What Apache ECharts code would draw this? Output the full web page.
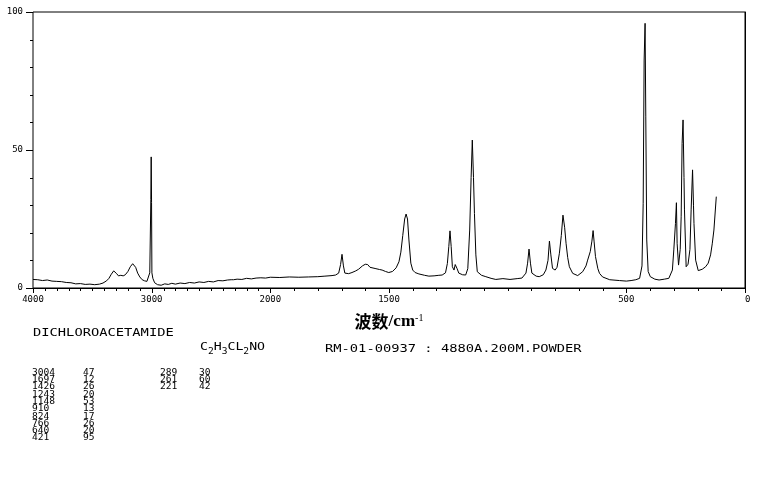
<!DOCTYPE html>
<html><head><meta charset="utf-8">
<script src="https://cdn.jsdelivr.net/npm/echarts@6/dist/echarts.min.js"></script>
<style>html,body{margin:0;padding:0;background:#fff}#c{width:761px;height:477px}</style>
</head><body><div id="c"></div>
<script>
// ---- data ----
const wavenumbers = [
 4000,3960,3920,3880,3840,3800,3760,3720,3680,3640,3600,3560,3520,3480,3440,3410,3380,3360,3340,3320,3310,3295,3280,3260,3240,3222,3200,3180,3160,3150,3135,3118,3100,3080,3060,3040,3025,3016,3010,3007,3004,3001,2998,2990,2975,2950,2920,2890,2860,2830,2800,2760,2720,2680,2640,2600,2560,2520,2480,2440,2400,2360,2330,2320,2310,2280,2240,2200,2160,2120,2080,2040,2000,
 1960,1920,1880,1840,1800,1770,1740,1725,1712,1704,1698,1692,1686,1670,1656,1640,1628,1612,1600,1590,1580,1572,1555,1540,1529,1515,1501,1485,1470,1458,1450,1442,1434,1428,1422,1416,1408,1400,1390,1374,1350,1332,1310,1290,1276,1262,1254,1248,1243,1238,1233,1226,1221,1218,1213,1206,1190,1177,1168,1160,1154,1149,1144,1140,1134,1128,1110,1092,1070,1050,1020,990,960,940,923,916,910,904,898,880,867,850,839,830,824,818,811,800,792,782,774,767,760,754,747,740,726,705,684,670,663,652,645,640,636,630,620,613,600,592,570,529,500,480,460,444,434,429,425,421,418,414,408,399,380,362,340,321,306,300,293,289,286,280,273,269,265,261,257,255,248,240,232,227,221,217,215,208,197,180,166,155,145,138,131,121
];
const intensities = [
 3.1,3.0,2.7,2.9,2.5,2.4,2.3,2.0,1.9,1.5,1.6,1.3,1.4,1.2,1.4,1.8,2.6,3.5,5.0,6.2,6.5,5.2,4.4,4.6,4.4,4.8,6.0,7.7,8.8,8.9,7.5,5.4,4.0,3.0,2.6,2.4,3.0,5.5,6.0,32,47.5,31,5.5,3.5,1.9,1.2,1.0,1.5,1.3,1.7,1.4,1.8,1.6,2.0,1.8,2.2,2.0,2.4,2.2,2.7,2.6,2.9,3.0,3.6,3.0,3.2,3.1,3.5,3.3,3.6,3.7,3.6,3.9,
 3.8,4.0,3.9,4.0,4.1,4.3,4.5,4.7,5.4,8.5,12.2,8.0,5.4,5.2,5.6,6.2,6.8,8.0,8.6,8.5,7.5,7.1,7.0,6.7,6.5,6.0,5.6,6.0,7.3,9.5,13,19,25,26.8,25,17.4,9.0,6.5,5.6,5.1,4.6,4.3,4.4,4.6,4.7,5.5,8.9,15,20.7,15,7.7,6.5,8.5,9.2,7.0,5.4,4.8,4.7,7,21,40,53.6,40,27,12,5.9,4.6,4.1,3.5,3.1,3.4,3.1,3.4,3.6,5.4,9,14.1,9,5.4,4.3,4.1,4.8,6.5,10,17,12,7.1,6.5,7.5,12.6,19,26.4,22,16.2,11,7.7,5.3,4.5,5.9,8.0,10.1,13.2,17,20.8,17,11.4,7.0,5.3,4.0,3.5,3.0,2.7,2.5,2.7,3.0,3.5,8,30.7,82.6,95.9,62,17.4,6,4.1,3.2,2.9,3.2,3.5,6.5,13.8,23.4,30.9,16.2,8.3,14,25.8,52.4,60.9,40,28.3,7.7,8.6,14,28.3,42.8,30,23.4,10.1,6.3,6.8,7.7,9,12,16,21,33.1
];
const xTickLabels = [4000, 3000, 2000, 1500, 500, 0];
const xMinorTicks = [3900,3800,3700,3600,3500,3400,3300,3200,3100,2900,2800,2700,2600,2500,2400,2300,2200,2100,1900,1800,1700,1600,1400,1300,1200,1100,1000,900,800,700,600,400,300,200,100];
const yTickLabels = [0, 50, 100];
const yMinorTicks = [10, 20, 30, 40, 60, 70, 80, 90];
const peakWavenumbers = [3004,1697,1426,1243,1148,910,824,766,640,421,289,261,221];
const peakIntensities = [47,12,26,20,53,13,17,26,20,95,30,60,42];
const compoundName = 'DICHLOROACETAMIDE';
const formulaRich = '{n|C}{s|2}{n|H}{s|3}{n|CL}{s|2}{n|NO}';
const sampleInfo = 'RM-01-00937 : 4880A.200M.POWDER';

// ---- axis transform: region above 2000 cm-1 drawn at half scale ----
const BREAK = 2000, UPPER_SCALE = 0.5;
function toAxis(w){ return w <= BREAK ? w : BREAK + (w - BREAK) * UPPER_SCALE; }
function fromAxis(u){ return u <= BREAK ? u : BREAK + (u - BREAK) / UPPER_SCALE; }
const AX_MAX = toAxis(4000);

const chart = echarts.init(document.getElementById('c'), null, {renderer:'canvas'});
const mono = 'DejaVu Sans Mono';
const rowsPerCol = 10;
const tableFont = '8px "' + mono + '"';
const lh = 7.3;
function colText(arr, start){ return arr.slice(start, start + rowsPerCol).map(String).join('\n'); }

// ticks drawn through the axes' own coordinate mapping (custom series)
function tickRenderer(dir, len){
  return function(params, api){
    const p = api.coord([api.value(0), api.value(1)]);
    if (dir === 'down') {
      const x = Math.round(p[0]) + 0.5;
      return {type:'line', shape:{x1:x, y1:p[1], x2:x, y2:p[1] + len}, style:{stroke:'#000', lineWidth:1}};
    }
    const y = Math.round(p[1]) + 0.5;
    return {type:'line', shape:{x1:p[0] - len, y1:y, x2:p[0], y2:y}, style:{stroke:'#000', lineWidth:1}};
  };
}

chart.setOption({
  animation: false,
  backgroundColor: '#fff',
  grid: {left:33, right:16, top:12, bottom:189, show:true, borderColor:'#000', borderWidth:1, containLabel:false},
  xAxis: {
    type:'value', min:0, max:AX_MAX, inverse:true, position:'bottom',
    axisLine:{show:true, lineStyle:{color:'#000', width:1}},
    axisTick:{show:false},
    axisLabel:{show:true, customValues: xTickLabels.map(toAxis), formatter: v => String(Math.round(fromAxis(v))),
      color:'#000', fontFamily:mono, fontSize:9, margin:7, alignMaxLabel:'left'},
    splitLine:{show:false},
    name:'{a|波数}{b|/cm}{c|-1}', nameLocation:'middle', nameGap:25,
    nameTextStyle:{rich:{
      a:{fontFamily:'Noto Sans CJK SC', fontSize:17, fontWeight:'bold', color:'#000'},
      b:{fontFamily:'Liberation Serif', fontSize:17, fontWeight:'bold', color:'#000'},
      c:{fontFamily:'Liberation Serif', fontSize:10, color:'#000', verticalAlign:'top', padding:[0,0,8,0]}
    }}
  },
  yAxis: {
    type:'value', min:0, max:100, position:'left',
    axisLine:{show:true, lineStyle:{color:'#000', width:1}},
    axisTick:{show:false},
    axisLabel:{show:true, customValues: yTickLabels, color:'#000', fontFamily:mono, fontSize:9, margin:10},
    splitLine:{show:false}
  },
  series: [{
    type:'line', showSymbol:false, symbol:'none',
    lineStyle:{color:'#000', width:1}, clip:true,
    data: wavenumbers.map((w, i) => [toAxis(w), intensities[i]])
  },{
    type:'custom', silent:true, clip:false, data: xTickLabels.map(w => [toAxis(w), 0]), renderItem: tickRenderer('down', 5)
  },{
    type:'custom', silent:true, clip:false, data: xMinorTicks.map(w => [toAxis(w), 0]), renderItem: tickRenderer('down', 3)
  },{
    type:'custom', silent:true, clip:false, data: yTickLabels.map(v => [AX_MAX, v]), renderItem: tickRenderer('left', 7)
  },{
    type:'custom', silent:true, clip:false, data: yMinorTicks.map(v => [AX_MAX, v]), renderItem: tickRenderer('left', 3)
  }],
  graphic: [
    {type:'text', x:33, y:333, scaleX:1.25, style:{text:compoundName, x:0, y:0, font:'11px "'+mono+'"', fill:'#000', textVerticalAlign:'middle'}},
    {type:'text', x:200, y:349, scaleX:1.2, style:{text:formulaRich, x:0, y:0, fill:'#000', textVerticalAlign:'middle',
      rich:{n:{fontFamily:mono, fontSize:11, lineHeight:14, verticalAlign:'top', padding:[0,0,0,0]}, s:{fontFamily:mono, fontSize:8, lineHeight:14, verticalAlign:'bottom', padding:[5,0,0,0]}}}},
    {type:'text', x:325, y:349, scaleX:1.25, style:{text:sampleInfo, x:0, y:0, font:'11px "'+mono+'"', fill:'#000', textVerticalAlign:'middle'}},
    {type:'text', x:32, y:369, scaleX:1.2, style:{text:colText(peakWavenumbers,0), x:0, y:0, font:tableFont, lineHeight:lh, fill:'#000'}},
    {type:'text', x:83, y:369, scaleX:1.2, style:{text:colText(peakIntensities,0), x:0, y:0, font:tableFont, lineHeight:lh, fill:'#000'}},
    {type:'text', x:160, y:369, scaleX:1.2, style:{text:colText(peakWavenumbers,rowsPerCol), x:0, y:0, font:tableFont, lineHeight:lh, fill:'#000'}},
    {type:'text', x:199, y:369, scaleX:1.2, style:{text:colText(peakIntensities,rowsPerCol), x:0, y:0, font:tableFont, lineHeight:lh, fill:'#000'}}
  ]
});
</script></body></html>
